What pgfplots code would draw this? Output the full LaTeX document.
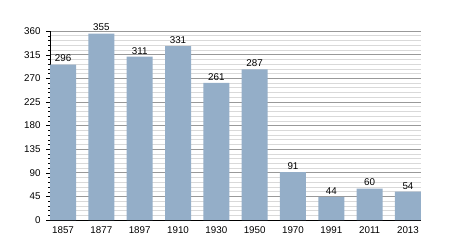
\documentclass[border=0pt]{standalone}
\usepackage{pgfplots}
\pgfplotsset{compat=1.18}
\usepackage{fontspec}
\setmainfont{Liberation Sans}
\definecolor{barc}{RGB}{148,174,200}
\begin{document}
\begin{tikzpicture}[x=1pt,y=1pt]
\path[use as bounding box] (0,0) rectangle (450,250);
\begin{axis}[
  at={(50pt,30pt)}, anchor=south west,
  scale only axis, width=371pt, height=189pt,
  xmin=-0.34, xmax=9.34, ymin=0, ymax=360,
  xtick={0,...,9},
  xticklabels={1857,1877,1897,1910,1930,1950,1970,1991,2011,2013},
  ytick={0,45,...,360},
  minor y tick num=4,
  ymajorgrids, yminorgrids,
  major grid style={draw=black!40, line width=0.6pt},
  minor grid style={draw=black!15, line width=0.5pt},
  axis x line*=bottom, axis y line*=left,
  x axis line style={-, black, line width=0.8pt},
  y axis line style={-, black, line width=0.8pt},
  tick style={black},
  xtick style={draw=none},
  ytick pos=left, tick align=outside,
  major tick length=4pt, minor tick length=2pt,
  tick label style={font=\fontsize{9.8}{11}\selectfont},
  /pgf/number format/assume math mode=true,
  yticklabel style={xshift=-2pt},
  xticklabel style={yshift=1pt},
  nodes near coords,
  every node near coord/.append style={font=\fontsize{9.8}{11}\selectfont, black, yshift=-1pt},
  clip=false,
]
\addplot[ybar, bar width=26pt, fill=barc, draw=none] coordinates {
(0,296) (1,355) (2,311) (3,331) (4,261) (5,287) (6,91) (7,44) (8,60) (9,54)
};
\end{axis}
\end{tikzpicture}
\end{document}
